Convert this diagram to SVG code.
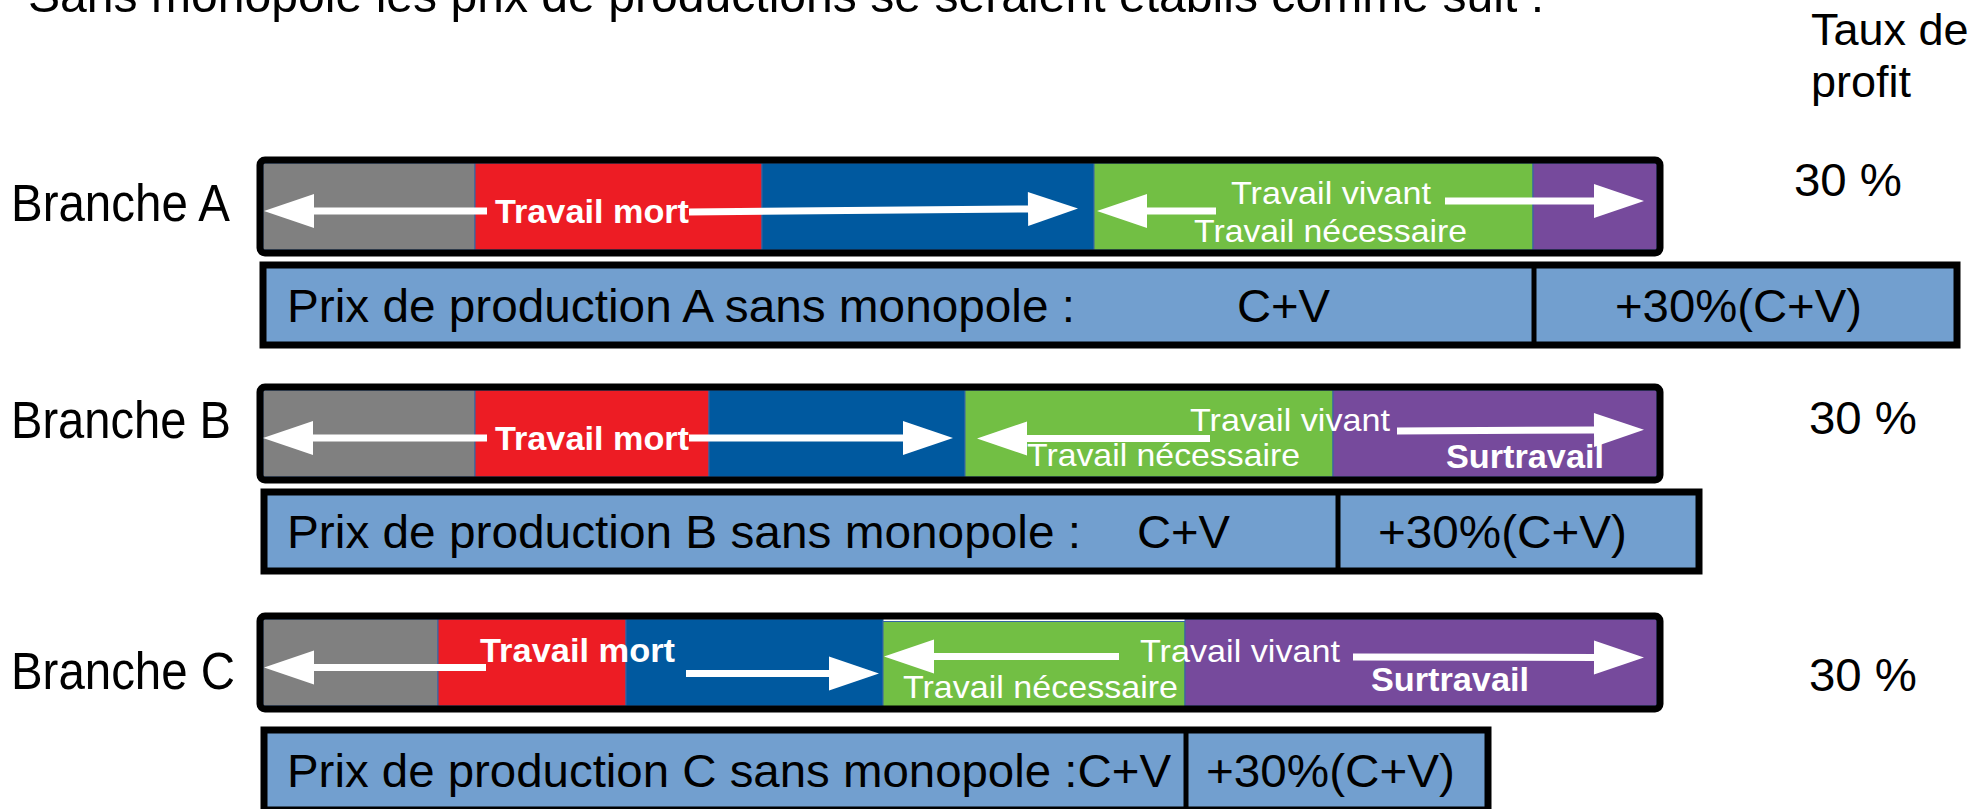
<svg xmlns="http://www.w3.org/2000/svg" width="1981" height="809" viewBox="0 0 1981 809">
<defs>
<marker id="head" markerUnits="userSpaceOnUse" markerWidth="52" markerHeight="36" refX="0" refY="17" orient="auto" overflow="visible"><path d="M0,0 L50,17 L0,34 z" fill="#ffffff"/></marker>
</defs>
<style>
.t{font-family:"Liberation Sans",Arial,sans-serif;fill:#000}
.br{font-size:51px}
.px{font-size:47px}
.pc{font-size:46px}
.w{font-family:"Liberation Sans",Arial,sans-serif;font-size:32px;fill:#fff}
.wb{font-family:"Liberation Sans",Arial,sans-serif;font-size:33px;font-weight:bold;fill:#fff}
.seg{stroke:#3465a4;stroke-width:1}
.g{fill:#808080}.r{fill:#ed1c24}.b{fill:#00599f}.v{fill:#72bf44}.p{fill:#764a9c}
.frame{fill:none;stroke:#000;stroke-width:7}
.price{fill:#729fcf;stroke:#000;stroke-width:7}
.div{stroke:#000;stroke-width:5}
.arr{fill:none;stroke:#fff;stroke-width:7;marker-end:url(#head)}
</style>
<rect width="1981" height="809" fill="#ffffff"/>
<g id="titre">
<text class="t" x="28" y="12" font-size="48" textLength="1516" lengthAdjust="spacingAndGlyphs">Sans monopole les prix de productions se seraient établis comme suit :</text>
<text class="t" x="1811" y="45" font-size="45">Taux de</text>
<text class="t" x="1811" y="97" font-size="45">profit</text>
</g>
<g id="branche-a">
<text class="t br" x="11" y="221" textLength="219" lengthAdjust="spacingAndGlyphs">Branche A</text>
<rect class="seg g" x="263" y="163" width="212" height="87"/>
<rect class="seg r" x="475" y="163" width="287" height="87"/>
<rect class="seg b" x="762" y="163" width="332" height="87"/>
<rect class="seg v" x="1094" y="163" width="439" height="87"/>
<rect class="seg p" x="1533" y="163" width="124" height="87"/>
<rect class="frame" x="260" y="160" width="1400" height="93" rx="5"/>
<text class="wb" x="495" y="223" textLength="194" lengthAdjust="spacingAndGlyphs">Travail mort</text>
<text class="w" x="1231" y="204" textLength="200" lengthAdjust="spacingAndGlyphs">Travail vivant</text>
<text class="w" x="1194" y="242" textLength="273" lengthAdjust="spacingAndGlyphs">Travail nécessaire</text>
<rect class="price" x="263" y="265" width="1694" height="80"/>
<line class="div" x1="1534" y1="265" x2="1534" y2="345"/>
<text class="t px" x="287" y="322" textLength="788" lengthAdjust="spacingAndGlyphs">Prix de production A sans monopole :</text>
<text class="t px" x="1237" y="322" textLength="93" lengthAdjust="spacingAndGlyphs">C+V</text>
<text class="t px" x="1615" y="322" textLength="247" lengthAdjust="spacingAndGlyphs">+30%(C+V)</text>
<text class="t pc" x="1794" y="196" textLength="108" lengthAdjust="spacingAndGlyphs">30 %</text>
</g>
<g id="branche-b">
<text class="t br" x="11" y="438" textLength="220" lengthAdjust="spacingAndGlyphs">Branche B</text>
<rect class="seg g" x="263" y="390" width="212" height="87"/>
<rect class="seg r" x="475" y="390" width="234" height="87"/>
<rect class="seg b" x="709" y="390" width="256" height="87"/>
<rect class="seg v" x="965" y="390" width="368" height="87"/>
<rect class="seg p" x="1333" y="390" width="324" height="87"/>
<rect class="frame" x="260" y="387" width="1400" height="93" rx="5"/>
<text class="wb" x="495" y="450" textLength="194" lengthAdjust="spacingAndGlyphs">Travail mort</text>
<text class="w" x="1190" y="431" textLength="200" lengthAdjust="spacingAndGlyphs">Travail vivant</text>
<text class="w" x="1027" y="466" textLength="273" lengthAdjust="spacingAndGlyphs">Travail nécessaire</text>
<text class="wb" x="1446" y="468" textLength="158" lengthAdjust="spacingAndGlyphs">Surtravail</text>
<rect class="price" x="264" y="492" width="1435" height="79"/>
<line class="div" x1="1338" y1="492" x2="1338" y2="571"/>
<text class="t px" x="287" y="548" textLength="794" lengthAdjust="spacingAndGlyphs">Prix de production B sans monopole :</text>
<text class="t px" x="1137" y="548" textLength="93" lengthAdjust="spacingAndGlyphs">C+V</text>
<text class="t px" x="1378" y="548" textLength="249" lengthAdjust="spacingAndGlyphs">+30%(C+V)</text>
<text class="t pc" x="1809" y="434" textLength="108" lengthAdjust="spacingAndGlyphs">30 %</text>
</g>
<g id="branche-c">
<text class="t br" x="11" y="689" textLength="224" lengthAdjust="spacingAndGlyphs">Branche C</text>
<rect class="seg g" x="263" y="619" width="175" height="87"/>
<rect class="seg r" x="438" y="619" width="188" height="87"/>
<rect class="seg b" x="626" y="619" width="257" height="87"/>
<rect class="seg v" x="883" y="621.5" width="302" height="87"/>
<rect class="seg p" x="1185" y="619" width="472" height="87"/>
<rect class="frame" x="260" y="616" width="1400" height="93" rx="5"/>
<text class="wb" x="480" y="662" textLength="195" lengthAdjust="spacingAndGlyphs">Travail mort</text>
<text class="w" x="1140" y="662" textLength="200" lengthAdjust="spacingAndGlyphs">Travail vivant</text>
<text class="w" x="903" y="698" textLength="275" lengthAdjust="spacingAndGlyphs">Travail nécessaire</text>
<text class="wb" x="1371" y="691" textLength="158" lengthAdjust="spacingAndGlyphs">Surtravail</text>
<rect class="price" x="264" y="730" width="1224" height="80"/>
<line class="div" x1="1186" y1="730" x2="1186" y2="810"/>
<text class="t px" x="287" y="787" textLength="884" lengthAdjust="spacingAndGlyphs">Prix de production C sans monopole :C+V</text>
<text class="t px" x="1206" y="787" textLength="249" lengthAdjust="spacingAndGlyphs">+30%(C+V)</text>
<text class="t pc" x="1809" y="691" textLength="108" lengthAdjust="spacingAndGlyphs">30 %</text>
</g>
<g id="connecteurs">
<path class="arr" d="M487,211 L314,211"/>
<path class="arr" d="M689,212 L1028,209"/>
<path class="arr" d="M1216,211 L1147,211"/>
<path class="arr" d="M1445,201 L1594,201"/>
<path class="arr" d="M487,438 L313,438"/>
<path class="arr" d="M689,438 L903,438"/>
<path class="arr" d="M1210,438.5 L1027,438.5"/>
<path class="arr" d="M1397,431 L1594,430"/>
<path class="arr" d="M486,667.5 L314,667.5"/>
<path class="arr" d="M686,673.5 L829,673.5"/>
<path class="arr" d="M1119,656.5 L934,656.5"/>
<path class="arr" d="M1353,657 L1594,657.5"/>
</g>
</svg>
